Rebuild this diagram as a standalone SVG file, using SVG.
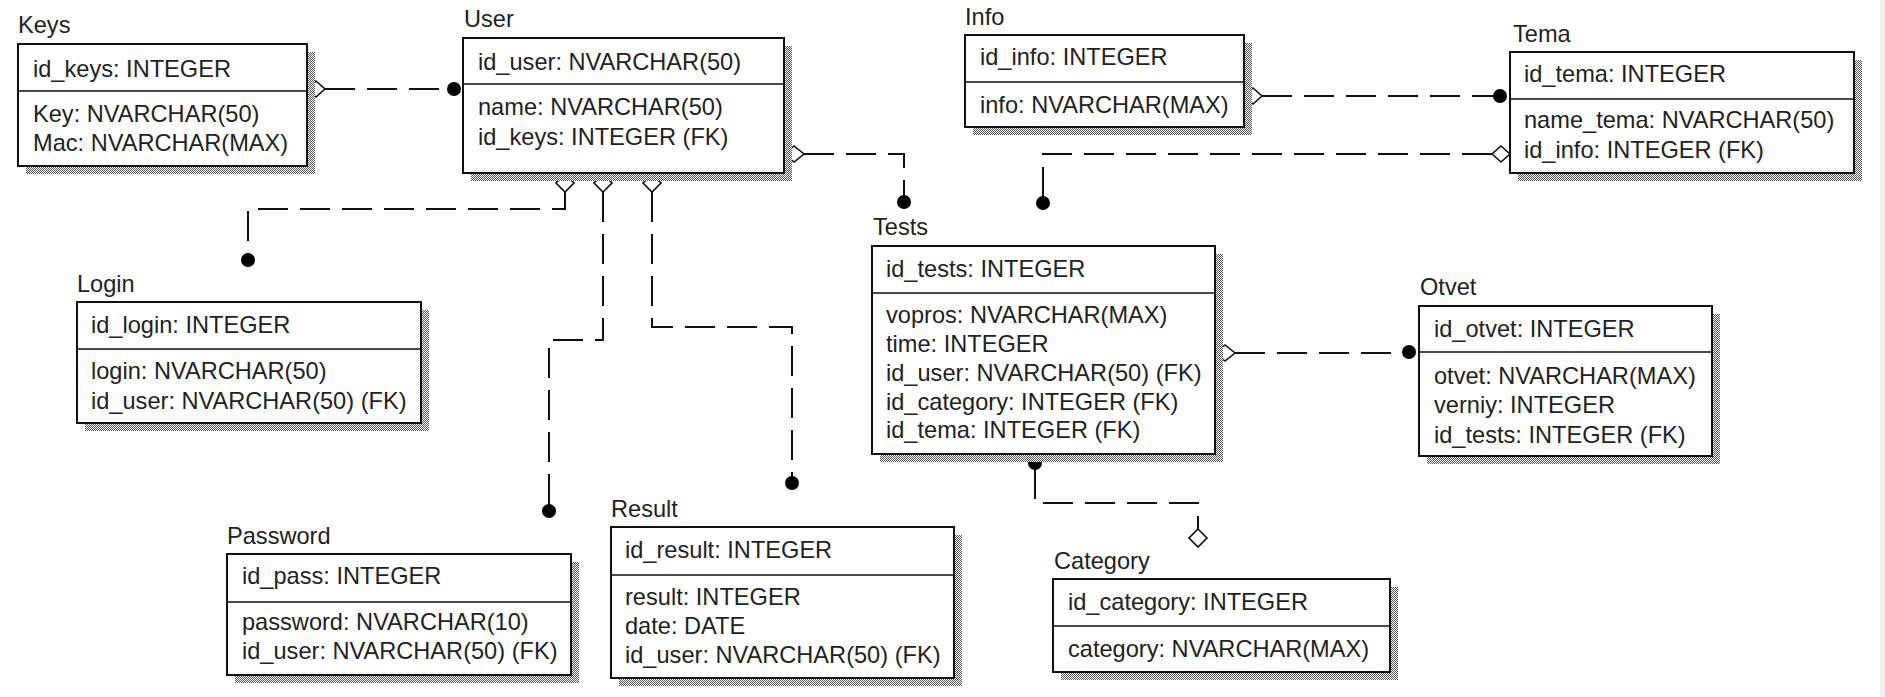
<svg xmlns="http://www.w3.org/2000/svg" width="1885" height="697" viewBox="0 0 1885 697">
<defs>
<pattern id="dots" width="2" height="2" patternUnits="userSpaceOnUse"><rect width="2" height="2" fill="#fff"/><rect width="1" height="1" fill="#555"/><rect x="1" y="1" width="1" height="1" fill="#555"/></pattern>
<style>
.shadow{fill:url(#dots)}
.box{fill:#fff;stroke:#111;stroke-width:2}
.div{stroke:#111;stroke-width:1.6}
.t{font-family:"Liberation Sans",Arial,sans-serif;font-size:23.6px;fill:#222}
.conn{fill:none;stroke:#111;stroke-width:2;stroke-dasharray:30 12}
.dia{fill:#fff;stroke:#111;stroke-width:1.6}
.dot{fill:#000}
</style>
</defs>
<rect width="1885" height="697" fill="#fff"/>
<rect x="1880" y="0" width="5" height="697" fill="#f0f0f0"/>

<g id="connectors">
  <!-- Keys - User -->
  <path class="conn" d="M325,89 H447"/>
  <path class="dia" d="M307,89 L316,81 L325,89 L316,97 Z"/>
  <circle class="dot" cx="454" cy="89" r="7"/>
  <!-- User - Tests -->
  <path class="conn" d="M804,154 H904 V196"/>
  <path class="dia" d="M784,154 L794,146 L804,154 L794,162 Z"/>
  <circle class="dot" cx="904" cy="202" r="7"/>
  <!-- User - Login -->
  <path class="conn" d="M565,192 V209 H248 V254"/>
  <path class="dia" d="M565,174 L574,183 L565,192 L556,183 Z"/>
  <circle class="dot" cx="248" cy="260" r="7"/>
  <!-- User - Password -->
  <path class="conn" d="M603,192 V340 H549 V505"/>
  <path class="dia" d="M603,174 L612,183 L603,192 L594,183 Z"/>
  <circle class="dot" cx="549" cy="511" r="7"/>
  <!-- User - Result -->
  <path class="conn" d="M652,192 V327 H792 V477"/>
  <path class="dia" d="M652,174 L661,183 L652,192 L643,183 Z"/>
  <circle class="dot" cx="792" cy="483" r="7"/>
  <!-- Info - Tema -->
  <path class="conn" d="M1262,96 H1494"/>
  <path class="dia" d="M1244,96 L1253,88 L1262,96 L1253,104 Z"/>
  <circle class="dot" cx="1500" cy="96" r="7"/>
  <!-- Tema - Tests -->
  <path class="conn" d="M1492,154 H1043 V197"/>
  <path class="dia" d="M1510,154 L1501,146 L1492,154 L1501,162 Z"/>
  <circle class="dot" cx="1043" cy="203" r="7"/>
  <!-- Tests - Otvet -->
  <path class="conn" d="M1235,353 H1403"/>
  <path class="dia" d="M1215,353 L1225,345 L1235,353 L1225,361 Z"/>
  <circle class="dot" cx="1409" cy="352" r="7"/>
  <!-- Tests - Category -->
  <path class="conn" d="M1035,469 V503 H1198 V529"/>
  <circle class="dot" cx="1035" cy="463" r="7"/>
  <path class="dia" d="M1198,529 L1207,538 L1198,547 L1189,538 Z"/>
</g>

<g id="keys" transform="translate(18,44)">
  <rect class="shadow" x="8" y="8" width="289" height="122"/>
  <rect class="box" x="0" y="0" width="289" height="122"/>
  <line class="div" x1="0" y1="47" x2="289" y2="47"/>
  <text class="t" x="0" y="-11">Keys</text>
  <text class="t" x="15" y="33">id_keys: INTEGER</text>
  <text class="t" x="15" y="78">Key: NVARCHAR(50)</text>
  <text class="t" x="15" y="107">Mac: NVARCHAR(MAX)</text>
</g>

<g id="user" transform="translate(463,38)">
  <rect class="shadow" x="8" y="8" width="321" height="135"/>
  <rect class="box" x="0" y="0" width="321" height="135"/>
  <line class="div" x1="0" y1="46" x2="321" y2="46"/>
  <text class="t" x="1" y="-11">User</text>
  <text class="t" x="15" y="32">id_user: NVARCHAR(50)</text>
  <text class="t" x="15" y="77">name: NVARCHAR(50)</text>
  <text class="t" x="15" y="107">id_keys: INTEGER (FK)</text>
</g>

<g id="info" transform="translate(965,35)">
  <rect class="shadow" x="8" y="8" width="279" height="92"/>
  <rect class="box" x="0" y="0" width="279" height="92"/>
  <line class="div" x1="0" y1="47" x2="279" y2="47"/>
  <text class="t" x="0" y="-10">Info</text>
  <text class="t" x="15" y="30">id_info: INTEGER</text>
  <text class="t" x="15" y="78">info: NVARCHAR(MAX)</text>
</g>

<g id="tema" transform="translate(1510,52)">
  <rect class="shadow" x="8" y="8" width="344" height="121"/>
  <rect class="box" x="0" y="0" width="344" height="121"/>
  <line class="div" x1="0" y1="47" x2="344" y2="47"/>
  <text class="t" x="3" y="-10">Tema</text>
  <text class="t" x="14" y="30">id_tema: INTEGER</text>
  <text class="t" x="14" y="76">name_tema: NVARCHAR(50)</text>
  <text class="t" x="14" y="106">id_info: INTEGER (FK)</text>
</g>

<g id="login" transform="translate(77,302)">
  <rect class="shadow" x="8" y="8" width="344" height="121"/>
  <rect class="box" x="0" y="0" width="344" height="121"/>
  <line class="div" x1="0" y1="47" x2="344" y2="47"/>
  <text class="t" x="0" y="-10">Login</text>
  <text class="t" x="14" y="31">id_login: INTEGER</text>
  <text class="t" x="14" y="77">login: NVARCHAR(50)</text>
  <text class="t" x="14" y="107">id_user: NVARCHAR(50) (FK)</text>
</g>

<g id="tests" transform="translate(872,246)">
  <rect class="shadow" x="8" y="8" width="343" height="208"/>
  <rect class="box" x="0" y="0" width="343" height="208"/>
  <line class="div" x1="0" y1="47" x2="343" y2="47"/>
  <text class="t" x="1" y="-11">Tests</text>
  <text class="t" x="14" y="31">id_tests: INTEGER</text>
  <text class="t" x="14" y="77">vopros: NVARCHAR(MAX)</text>
  <text class="t" x="14" y="106">time: INTEGER</text>
  <text class="t" x="14" y="135">id_user: NVARCHAR(50) (FK)</text>
  <text class="t" x="14" y="164">id_category: INTEGER (FK)</text>
  <text class="t" x="14" y="192">id_tema: INTEGER (FK)</text>
</g>

<g id="otvet" transform="translate(1419,306)">
  <rect class="shadow" x="8" y="8" width="293" height="150"/>
  <rect class="box" x="0" y="0" width="293" height="150"/>
  <line class="div" x1="0" y1="46" x2="293" y2="46"/>
  <text class="t" x="1" y="-11">Otvet</text>
  <text class="t" x="15" y="31">id_otvet: INTEGER</text>
  <text class="t" x="15" y="78">otvet: NVARCHAR(MAX)</text>
  <text class="t" x="15" y="107">verniy: INTEGER</text>
  <text class="t" x="15" y="137">id_tests: INTEGER (FK)</text>
</g>

<g id="password" transform="translate(227,554)">
  <rect class="shadow" x="8" y="8" width="344" height="121"/>
  <rect class="box" x="0" y="0" width="344" height="121"/>
  <line class="div" x1="0" y1="48" x2="344" y2="48"/>
  <text class="t" x="0" y="-10">Password</text>
  <text class="t" x="15" y="30">id_pass: INTEGER</text>
  <text class="t" x="15" y="76">password: NVARCHAR(10)</text>
  <text class="t" x="15" y="105">id_user: NVARCHAR(50) (FK)</text>
</g>

<g id="result" transform="translate(611,527)">
  <rect class="shadow" x="8" y="8" width="343" height="151"/>
  <rect class="box" x="0" y="0" width="343" height="151"/>
  <line class="div" x1="0" y1="48" x2="343" y2="48"/>
  <text class="t" x="0" y="-10">Result</text>
  <text class="t" x="14" y="31">id_result: INTEGER</text>
  <text class="t" x="14" y="78">result: INTEGER</text>
  <text class="t" x="14" y="107">date: DATE</text>
  <text class="t" x="14" y="136">id_user: NVARCHAR(50) (FK)</text>
</g>

<g id="category" transform="translate(1053,579)">
  <rect class="shadow" x="8" y="8" width="337" height="93"/>
  <rect class="box" x="0" y="0" width="337" height="93"/>
  <line class="div" x1="0" y1="47" x2="337" y2="47"/>
  <text class="t" x="1" y="-10">Category</text>
  <text class="t" x="15" y="31">id_category: INTEGER</text>
  <text class="t" x="15" y="78">category: NVARCHAR(MAX)</text>
</g>
</svg>
